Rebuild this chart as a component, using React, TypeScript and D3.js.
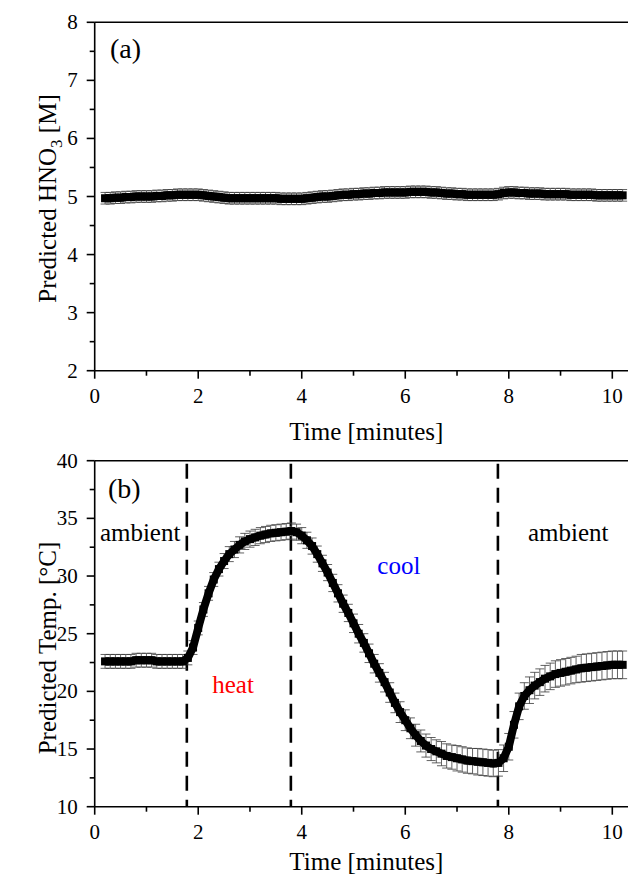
import React from 'react';
import * as d3 from 'd3';

// ---------- DATA ----------
const times = [
  0.2, 0.3, 0.4, 0.5, 0.6, 0.7, 0.8, 0.9, 1.0,
  1.1, 1.2, 1.3, 1.4, 1.5, 1.6, 1.7, 1.8, 1.9, 2.0,
  2.1, 2.2, 2.3, 2.4, 2.5, 2.6, 2.7, 2.8, 2.9, 3.0,
  3.1, 3.2, 3.3, 3.4, 3.5, 3.6, 3.7, 3.8, 3.9, 4.0,
  4.1, 4.2, 4.3, 4.4, 4.5, 4.6, 4.7, 4.8, 4.9, 5.0,
  5.1, 5.2, 5.3, 5.4, 5.5, 5.6, 5.7, 5.8, 5.9, 6.0,
  6.1, 6.2, 6.3, 6.4, 6.5, 6.6, 6.7, 6.8, 6.9, 7.0,
  7.1, 7.2, 7.3, 7.4, 7.5, 7.6, 7.7, 7.8, 7.9, 8.0,
  8.1, 8.2, 8.3, 8.4, 8.5, 8.6, 8.7, 8.8, 8.9, 9.0,
  9.1, 9.2, 9.3, 9.4, 9.5, 9.6, 9.7, 9.8, 9.9, 10.0, 10.1, 10.2,
];

const hno3 = [
  4.97, 4.97, 4.98, 4.98, 4.99, 4.99, 5.0, 5.0, 5.0,
  5.0, 5.01, 5.01, 5.02, 5.02, 5.03, 5.03, 5.03, 5.03, 5.03,
  5.02, 5.01, 5.0, 4.99, 4.98, 4.97, 4.97, 4.97, 4.97, 4.97,
  4.97, 4.97, 4.97, 4.97, 4.97, 4.96, 4.96, 4.96, 4.96, 4.96,
  4.97, 4.98, 4.99, 5.0, 5.0, 5.01, 5.02, 5.03, 5.03, 5.04,
  5.04, 5.05, 5.05, 5.06, 5.06, 5.07, 5.07, 5.07, 5.07, 5.07,
  5.08, 5.08, 5.08, 5.08, 5.07, 5.07, 5.06, 5.05, 5.05, 5.04,
  5.04, 5.03, 5.03, 5.03, 5.03, 5.03, 5.03, 5.04, 5.06, 5.07,
  5.07, 5.06, 5.06, 5.05, 5.05, 5.05, 5.04, 5.04, 5.04, 5.04,
  5.04, 5.03, 5.03, 5.03, 5.03, 5.03, 5.02, 5.02, 5.02, 5.02, 5.02, 5.02,
];
const hno3Err = 0.1;

const temp = [
  22.6, 22.6, 22.6, 22.6, 22.6, 22.6, 22.7, 22.7, 22.7,
  22.7, 22.6, 22.6, 22.6, 22.6, 22.6, 22.6, 22.9, 23.8, 25.5,
  27.1, 28.5, 29.7, 30.6, 31.3, 31.9, 32.3, 32.7, 33.0, 33.2,
  33.35, 33.5, 33.6, 33.7, 33.75, 33.8, 33.85, 33.9, 33.8, 33.5,
  33.1, 32.6, 31.9, 31.1, 30.3, 29.4, 28.5, 27.6, 26.8, 25.9,
  25.0, 24.2, 23.3, 22.4, 21.6, 20.8, 19.9, 19.0, 18.2, 17.5,
  16.8, 16.2, 15.7, 15.3, 15.0, 14.8, 14.6, 14.4, 14.3, 14.2,
  14.1, 14.0, 13.95, 13.9, 13.85, 13.8, 13.75, 13.8, 14.2, 15.2,
  17.1, 18.7, 19.6, 20.1, 20.5, 20.8, 21.1, 21.3, 21.5, 21.6,
  21.7, 21.8, 21.9, 22.0, 22.05, 22.1, 22.15, 22.2, 22.25, 22.3, 22.3, 22.3,
];

const tempErr = [
  0.6, 0.6, 0.6, 0.6, 0.6, 0.6, 0.6, 0.6, 0.6,
  0.6, 0.6, 0.6, 0.6, 0.6, 0.6, 0.6, 0.6, 0.6, 0.6,
  0.6, 0.6, 0.6, 0.6, 0.65, 0.65, 0.7, 0.7, 0.7, 0.7,
  0.7, 0.7, 0.7, 0.7, 0.7, 0.7, 0.7, 0.7, 0.7, 0.7,
  0.7, 0.7, 0.7, 0.7, 0.7, 0.75, 0.75, 0.75, 0.75, 0.8,
  0.8, 0.8, 0.8, 0.8, 0.8, 0.85, 0.85, 0.85, 0.9, 0.9,
  0.9, 0.95, 0.95, 1.0, 1.0, 1.0, 1.05, 1.05, 1.05, 1.1,
  1.1, 1.1, 1.1, 1.15, 1.15, 1.15, 1.15, 1.15, 1.15, 1.15,
  1.15, 1.15, 1.15, 1.15, 1.15, 1.15, 1.15, 1.15, 1.15, 1.15,
  1.15, 1.15, 1.15, 1.2, 1.2, 1.2, 1.2, 1.2, 1.2, 1.2, 1.2, 1.2,
];

const phaseBoundaries = [1.78, 3.79, 7.79];

const xMajorTicks = [0, 2, 4, 6, 8, 10];
const xMinorTicks = [1, 3, 5, 7, 9];
const yTopMajor = [2, 3, 4, 5, 6, 7, 8];
const yTopMinor = [2.5, 3.5, 4.5, 5.5, 6.5, 7.5];
const yBotMajor = [10, 15, 20, 25, 30, 35, 40];
const yBotMinor = [12.5, 17.5, 22.5, 27.5, 32.5, 37.5];

const phaseLabels = [
  { text: 'ambient', t: 0.1, v: 33.0, color: '#000000' },
  { text: 'heat', t: 2.27, v: 19.9, color: '#ff0000' },
  { text: 'cool', t: 5.46, v: 30.2, color: '#0000ff' },
  { text: 'ambient', t: 8.37, v: 33.0, color: '#000000' },
];

// ---------- LAYOUT ----------
const W = 630;
const H = 880;
const xLeft = 94.7;
const xRightEnd = 628;
const FONT = '"Liberation Serif", "Times New Roman", serif';

const x = d3.scaleLinear().domain([0, 10]).range([xLeft, 612.3]);
const yTop = d3.scaleLinear().domain([2, 8]).range([370.7, 22.3]);
const yBot = d3.scaleLinear().domain([10, 40]).range([806.7, 460.7]);

const MAJ = 8;
const MIN = 5;

function Axes({ y, yMajor, yMinor }: { y: d3.ScaleLinear<number, number>; yMajor: number[]; yMinor: number[] }) {
  const [y0, y1] = y.range();
  return (
    <g stroke="#000" strokeWidth={1.6} fill="none">
      <line x1={xLeft} x2={xRightEnd} y1={y0} y2={y0} />
      <line x1={xLeft} x2={xRightEnd} y1={y1} y2={y1} />
      <line x1={xLeft} x2={xLeft} y1={y1} y2={y0} />
      {xMajorTicks.map((t) => (
        <line key={'xM' + t} x1={x(t)} x2={x(t)} y1={y0} y2={y0 + MAJ} />
      ))}
      {xMinorTicks.map((t) => (
        <line key={'xm' + t} x1={x(t)} x2={x(t)} y1={y0} y2={y0 + MIN} />
      ))}
      {yMajor.map((v) => (
        <line key={'yM' + v} x1={xLeft - MAJ} x2={xLeft} y1={y(v)} y2={y(v)} />
      ))}
      {yMinor.map((v) => (
        <line key={'ym' + v} x1={xLeft - MIN} x2={xLeft} y1={y(v)} y2={y(v)} />
      ))}
      <g stroke="none" fill="#000" fontFamily={FONT} fontSize={21}>
        {xMajorTicks.map((t) => (
          <text key={'xl' + t} x={x(t)} y={y0 + 32} textAnchor="middle">{t}</text>
        ))}
        {yMajor.map((v) => (
          <text key={'yl' + v} x={xLeft - 17} y={y(v) + 7} textAnchor="end">{v}</text>
        ))}
      </g>
    </g>
  );
}

function Series({ y, vals, errs }: { y: d3.ScaleLinear<number, number>; vals: number[]; errs: number[] }) {
  const cap = 4.5;
  const sq = 8;
  return (
    <g>
      <g stroke="#3a3a3a" strokeWidth={0.8}>
        {times.map((t, i) => {
          const cx = x(t);
          const hi = y(vals[i] + errs[i]);
          const lo = y(vals[i] - errs[i]);
          return (
            <g key={i}>
              <line x1={cx} x2={cx} y1={hi} y2={lo} />
              <line x1={cx - cap} x2={cx + cap} y1={hi} y2={hi} />
              <line x1={cx - cap} x2={cx + cap} y1={lo} y2={lo} />
            </g>
          );
        })}
      </g>
      <path
        d={d3.line<number>().x((_, i) => x(times[i])).y((v) => y(v))(vals) || ''}
        stroke="#000"
        strokeWidth={8}
        strokeLinejoin="round"
        fill="none"
      />
      <g fill="#000">
        {times.map((t, i) => (
          <rect key={i} x={x(t) - sq / 2} y={y(vals[i]) - sq / 2} width={sq} height={sq} />
        ))}
      </g>
    </g>
  );
}

export default function App() {
  const hno3Errs = hno3.map(() => hno3Err);
  const yTopMid = (yTop.range()[0] + yTop.range()[1]) / 2;
  const yBotLabel = 648;
  const xMid = (xLeft + xRightEnd) / 2 + 5;
  return (
    <svg
      width={W}
      height={H}
      viewBox={`0 0 ${W} ${H}`}
      style={{ position: 'absolute', left: 0, top: 0, background: '#fff' }}
    >
      <rect x={0} y={0} width={W} height={H} fill="#fff" />

      {/* Panel (a) */}
      <Series y={yTop} vals={hno3} errs={hno3Errs} />
      <Axes y={yTop} yMajor={yTopMajor} yMinor={yTopMinor} />
      <text x={110} y={58} fontFamily={FONT} fontSize={28}>(a)</text>
      <text x={xMid} y={440} fontFamily={FONT} fontSize={25} textAnchor="middle">Time [minutes]</text>
      <text
        x={56}
        y={yTopMid + 2}
        fontFamily={FONT}
        fontSize={25}
        textAnchor="middle"
        transform={`rotate(-90, 56, ${yTopMid + 2})`}
      >
        Predicted HNO<tspan fontSize={17} dy={6}>3</tspan><tspan dy={-6}> [M]</tspan>
      </text>

      {/* Panel (b) */}
      <g stroke="#000" strokeWidth={2.6} strokeDasharray="15,9">
        {phaseBoundaries.map((t) => (
          <line key={t} x1={x(t)} x2={x(t)} y1={yBot(40) + 3} y2={yBot(10)} />
        ))}
      </g>
      <Series y={yBot} vals={temp} errs={tempErr} />
      <Axes y={yBot} yMajor={yBotMajor} yMinor={yBotMinor} />
      <text x={108} y={498} fontFamily={FONT} fontSize={28}>(b)</text>
      {phaseLabels.map((p, i) => (
        <text key={i} x={x(p.t)} y={yBot(p.v)} fontFamily={FONT} fontSize={25} fill={p.color}>
          {p.text}
        </text>
      ))}
      <text x={xMid} y={870} fontFamily={FONT} fontSize={25} textAnchor="middle">Time [minutes]</text>
      <text
        x={56}
        y={yBotLabel}
        fontFamily={FONT}
        fontSize={25}
        textAnchor="middle"
        transform={`rotate(-90, 56, ${yBotLabel})`}
      >
        Predicted Temp. [°C]
      </text>
    </svg>
  );
}
